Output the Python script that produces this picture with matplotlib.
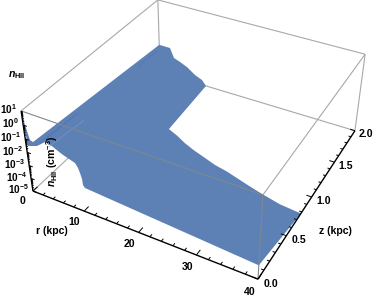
import numpy as np
import matplotlib
matplotlib.use('Agg')
import matplotlib.pyplot as plt
from matplotlib.axes import Axes
from mpl_toolkits.mplot3d import proj3d
from mpl_toolkits.mplot3d.art3d import Poly3DCollection, Line3DCollection

plt.rcParams['font.family'] = ['Liberation Sans', 'DejaVu Sans']
plt.rcParams['mathtext.fontset'] = 'custom'
plt.rcParams['mathtext.rm'] = 'Liberation Sans:bold'
plt.rcParams['mathtext.bf'] = 'Liberation Sans:bold'
plt.rcParams['mathtext.it'] = 'Liberation Sans:italic:bold'

# Surface outline (r kpc, z kpc, log10 n_HII)
# far edge at z = 2
far_r = [0.0, 2.37, 3.21, 4.52, 6.04, 7.78, 9.29, 10.16]
far_z = [2.0] * 8
far_logn = [-2.65, -2.66, -3.41, -3.6, -3.86, -4.34, -4.59, -5.0]
# where the surface leaves the box through the floor
floor_r = [10.86, 13.13, 15.34, 17.65, 19.92, 22.70, 25.30, 29.65, 32.34, 36.24, 40.0]
floor_z = [1.24, 1.19, 1.13, 1.08, 1.04, 0.99, 0.96, 0.89, 0.85, 0.80, 0.78]
floor_logn = [-5.0] * 11
# midplane profile at z = 0, from r = 40 inward, with the central spike
mid_r = [40.0, 10.61, 10.29, 10.21, 9.95, 9.67, 9.20, 8.13, 7.07, 6.19, 5.31, 4.60, 3.87, 3.02, 2.17, 0.35,
         0.0, 0.36, 0.93, 0.0]
mid_z = [0.0] * 19 + [0.08]
mid_logn = [-3.95, -3.11, -2.93, -2.49, -2.09, -1.76, -1.46, -1.32, -1.18, -1.02, -0.85, -0.73, -0.69,
            -0.96, -1.22, -1.48, 1.0, 0.05, -0.95, -1.65]

# Faint mesh lines on the surface
mesh_dark_r = [1.0, 1.0]
mesh_dark_z = [0.1, 0.62]
mesh_dark_logn = [-1.7, -1.95]
mesh_dark2_r = [1.0, 1.0]
mesh_dark2_z = [1.55, 1.88]
mesh_dark2_logn = [-2.4, -2.58]
mesh_light_r = [3.0, 3.0]
mesh_light_z = [0.08, 0.55]
mesh_light_logn = [-1.6, -1.95]

r_major = [0, 10, 20, 30, 40]
z_major = [0.0, 0.5, 1.0, 1.5, 2.0]
z_labels = ['0.0', '0.5', '1.0', '1.5', '2.0']
n_exponents = [1, 0, -1, -2, -3, -4, -5]

R0, R1, Z0, Z1, W0, W1 = 0, 40, 0, 2, -5, 1
W, H = 374, 296

# Camera fitted to the eight corners of the box as they sit in the image
corners = {(0, 0, -5): (33, 191), (40, 0, -5): (258, 279), (40, 2, -5): (355, 131), (0, 2, -5): (160, 72),
           (0, 0, 1): (21, 111), (40, 0, 1): (263, 195), (40, 2, 1): (365, 54), (0, 2, 1): (158, 0)}
A = []
for (X, Y, Zc), (u, v) in corners.items():
    A.append([X, Y, Zc, 1, 0, 0, 0, 0, -u*X, -u*Y, -u*Zc, -u])
    A.append([0, 0, 0, 0, X, Y, Zc, 1, -v*X, -v*Y, -v*Zc, -v])
P = np.linalg.svd(np.array(A, float))[2][-1].reshape(3, 4)
P = P / P[2, 3]
null = np.linalg.svd(P)[2][-1]
M = np.vstack([P[0], P[1], null, P[2]])

fig = plt.figure(figsize=(W/100, H/100), dpi=100)
ax = fig.add_axes([0, 0, 1, 1], projection='3d', computed_zorder=False)
ax.set_axis_off()
ax.patch.set_visible(False)

def get_proj():
    ax._viewLim.intervalx = (0, W)
    ax._viewLim.intervaly = (H, 0)
    return M
ax.get_proj = get_proj
ax.apply_aspect = lambda position=None: None
get_proj()

GRAY = '#a8a8a8'
DARK = '#7d8791'
def segs(pairs, color=GRAY, lw=0.8, z=1):
    lc = Line3DCollection([[a, b] for a, b in pairs], colors=color, linewidths=lw, zorder=z)
    lc.set_capstyle('butt')
    ax.add_collection3d(lc, autolim=False)

# Box edges behind the surface
segs([((R0, Z0, W0), (R0, Z1, W0)),
      ((R0, Z1, W0), (R1, Z1, W0)),
      ((R0, Z1, W0), (R0, Z1, W1)),
      ((R1, Z1, W0), (R1, Z1, W1)),
      ((R0, Z1, W1), (R1, Z1, W1)),
      ((R0, Z0, W1), (R0, Z1, W1)),
      ((R1, Z0, W1), (R1, Z1, W1))])

outline = (list(zip(far_r, far_z, far_logn)) + list(zip(floor_r, floor_z, floor_logn))
           + list(zip(mid_r, mid_z, mid_logn)))
poly = Poly3DCollection([outline], facecolors='#5E81B5', edgecolors='none', zorder=2)
ax.add_collection3d(poly, autolim=False)

segs([list(zip(mesh_dark_r, mesh_dark_z, mesh_dark_logn))], '#4a6ec0', 0.5, 3)
segs([list(zip(mesh_dark2_r, mesh_dark2_z, mesh_dark2_logn))], '#4f74b8', 0.5, 3)
segs([list(zip(mesh_light_r, mesh_light_z, mesh_light_logn))], '#7d9ac6', 0.4, 3)

# Box edges in front of the surface
segs([((R0, Z0, W1), (R1, Z0, W1)), ((R1, Z0, W0), (R1, Z0, W1))], DARK, 0.8, 4)

# Axes
segs([((R0, Z0, W0), (R1, Z0, W0)),
      ((R1, Z0, W0), (R1, Z1, W0)),
      ((R0, Z0, W0), (R0, Z0, W1))], 'black', 1.0, 5)

ticks = []
for r in np.arange(0, 41, 2):
    L = 0.06 if r % 10 == 0 else 0.03
    ticks.append(((r, Z0, W0), (r, Z0 + L, W0)))
for k in range(21):
    zv = k / 10
    L = 0.9 if k % 5 == 0 else 0.45
    ticks.append(((R1, zv, W0), (R1 - L, zv, W0)))
for e in range(-5, 1):
    for m in range(1, 10):
        wv = e + np.log10(m)
        L = 0.7 if m == 1 else 0.3
        ticks.append(((R0, Z0, wv), (R0 + L, Z0, wv)))
segs(ticks, 'black', 0.7, 5)

FS = 7.6
def label3d(x, y, z, s, size=FS, **kw):
    px, py, _ = proj3d.proj_transform(x, y, z, M)
    Axes.text(ax, float(px), float(py), s, va='center', fontsize=size, zorder=6, **kw)

for r in r_major:
    label3d(r, -0.135, W0, str(r), ha='center', fontweight='bold')
for zv, s in zip(z_major, z_labels):
    label3d(R1 + 2.0, zv, W0, s, ha='center', fontweight='bold')
for e in n_exponents:
    label3d(R0 - 0.8, Z0, e, r'$\mathbf{10^{%d}}$' % e, size=7.2, ha='right')

def ftext(x, y, s, **kw):
    fig.text(x / W, 1 - y / H, s, ha='center', va='center', fontsize=FS, fontweight='bold', **kw)
ftext(52, 231, 'r (kpc)')
ftext(335, 231, 'z (kpc)')
ftext(17, 75, r'$\mathit{n}_{\mathrm{HII}}$')
ftext(52, 161, r'$\mathit{n}_{\mathrm{HII}}$ (cm$^{-3}$)', rotation=90, zorder=7)

fig.savefig('out.png', dpi=100)
